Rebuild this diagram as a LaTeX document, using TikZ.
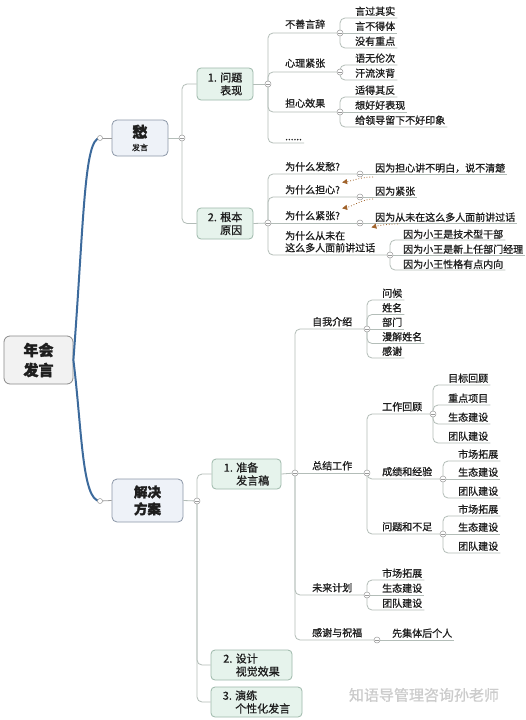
\documentclass[tikz,border=0pt]{standalone}
\usepackage{fontspec}
\setmainfont{Noto Sans CJK SC}[FakeBold=0.9, BoldFeatures={FakeBold=1.8}]
\usetikzlibrary{arrows.meta}
\definecolor{lc}{HTML}{B3BDB8}
\definecolor{cg}{HTML}{9A9A9A}
\definecolor{txt}{HTML}{1E1E1E}
\definecolor{gb}{HTML}{9DB8AA}
\definecolor{gf}{HTML}{E6F3EC}
\definecolor{bb}{HTML}{8C97A8}
\definecolor{bf}{HTML}{EEF2F8}
\definecolor{rb}{HTML}{8A8A8A}
\definecolor{rf}{HTML}{F2F2F2}
\definecolor{mainblue}{HTML}{3C6A9C}
\definecolor{relc}{HTML}{A0622A}
\begin{document}
\begin{tikzpicture}[x=1pt,y=-1pt,
  tn/.style={anchor=south west, inner xsep=2pt, inner ysep=2pt, text=txt, font=\fontsize{10}{12}\selectfont},
  tm/.style={tn, inner ysep=2.5pt, align=left},
  ta/.style={tn, inner ysep=1pt},
  conn/.style={draw=lc, line width=0.8pt, rounded corners=5pt},
  cb/.style={circle, draw=cg, fill=white, line width=0.5pt, minimum size=6pt, inner sep=0pt,
    path picture={\draw[cg, line width=0.5pt] ([xshift=-1.6pt]path picture bounding box.center) -- ([xshift=1.6pt]path picture bounding box.center);}},
  hc/.style={circle, draw=cg, fill=white, line width=0.5pt, minimum size=5pt, inner sep=0pt},
  gbox/.style={draw=gb, fill=gf, rounded corners=4pt, line width=0.8pt, align=left, text=txt,
    font=\fontsize{11}{13}\selectfont, minimum height=30pt, inner sep=0pt},
  bbox/.style={draw=bb, fill=bf, rounded corners=5pt, line width=0.8pt, align=center, text=txt, inner sep=0pt},
  rel/.style={draw=relc, dotted, line width=0.8pt, -{Triangle[length=5pt,width=5pt]}},
  mainline/.style={draw=mainblue, line width=2pt}
]
\useasboundingbox (0,0) rectangle (526,720);
\fill[white] (0,0) rectangle (526,720);

% ---------- coordinates of collapse circles ----------
\coordinate (kq) at (100,138);
\coordinate (ks) at (100,501);
\coordinate (kc) at (182,138);
\coordinate (kj) at (197,501);
\coordinate (kb1) at (268,84);
\coordinate (kb2) at (268,223);
\coordinate (ka1) at (340,33);
\coordinate (ka2) at (340,72);
\coordinate (ka3) at (340,112);
\coordinate (kq1) at (360,174);
\coordinate (kq2) at (360,197);
\coordinate (kq3) at (360,223);
\coordinate (kq4) at (390,255);
\coordinate (kp1) at (295,473);
\coordinate (ks1) at (367,329);
\coordinate (ks2) at (367,473);
\coordinate (ks3) at (367,595);
\coordinate (ks4) at (377,640);
\coordinate (kw1) at (433,414);
\coordinate (kw2) at (443,479);
\coordinate (kw3) at (443,534);

% ---------- boxes ----------
\node[draw=rb, fill=rf, rounded corners=6pt, line width=0.8pt, minimum width=69pt, minimum height=48pt,
  align=center, text=txt, inner sep=0pt, font=\fontsize{15}{20}\selectfont\bfseries] (root) at (38.5,360) {年会\\发言};
\node[bbox, minimum width=56pt, minimum height=36pt, font=\fontsize{8}{13}\selectfont] (chou) at (140,138)
  {{\fontsize{15}{16}\selectfont\bfseries 愁}\\发言};
\node[bbox, minimum width=71pt, minimum height=43pt, font=\fontsize{13.5}{17}\selectfont\bfseries] (jjfa) at (147.5,500.5) {解决\\方案};

\node[gbox, minimum width=56pt, minimum height=32pt] (b1) at (225,84) {1. 问题\\\hphantom{1. }表现};
\node[gbox, minimum width=56pt, minimum height=31pt] (b2) at (225,223.5) {2. 根本\\\hphantom{2. }原因};
\node[gbox, minimum width=69pt] (p1) at (246.5,474) {1. 准备\\\hphantom{1. }发言稿};
\node[gbox, minimum width=81pt] (p2) at (251.5,665) {2. 设计\\\hphantom{2. }视觉效果};
\node[gbox, minimum width=91pt] (p3) at (256.5,702) {3. 演练\\\hphantom{3. }个性化发言};

% ---------- level 2 texts ----------
\node[tm, inner ysep=4pt] (a1) at (283,33) {不善言辞};
\node[tm, inner ysep=4pt] (a2) at (283,72) {心理紧张};
\node[tm, inner ysep=4pt] (a3) at (283,112) {担心效果};
\node[tm] (a4) at (283,143) {......};

\node[tm] (q1) at (283,174) {为什么发愁?};
\node[tm] (q2) at (283,197) {为什么担心?};
\node[tm] (q3) at (283,223) {为什么紧张?};
\node[tm] (q4) at (283,255) {为什么从未在\\这么多人面前讲过话};

\node[tm] (s1) at (310,329) {自我介绍};
\node[tm] (s2) at (310,473) {总结工作};
\node[tm] (s3) at (310,595) {未来计划};
\node[tm] (s4) at (310,640) {感谢与祝福};

\node[tm] (w1) at (380,414) {工作回顾};
\node[tm] (w2) at (380,479) {成绩和经验};
\node[tm] (w3) at (380,534) {问题和不足};

% ---------- leaves ----------
\node[tn] (a11) at (353,18) {言过其实};
\node[tn] (a12) at (353,33) {言不得体};
\node[tn] (a13) at (353,48) {没有重点};
\node[tn] (a21) at (353,65) {语无伦次};
\node[tn] (a22) at (353,80) {汗流浃背};
\node[tn] (a31) at (353,97) {适得其反};
\node[tn] (a32) at (353,112) {想好好表现};
\node[tn] (a33) at (353,127) {给领导留下不好印象};

\node[ta] (r1) at (373,174) {因为担心讲不明白，说不清楚};
\node[ta] (r2) at (373,197) {因为紧张};
\node[ta] (r3) at (373,223) {因为从未在这么多人面前讲过话};
\node[ta] (r41) at (401,240) {因为小王是技术型干部};
\node[ta] (r42) at (401,255) {因为小王是新上任部门经理};
\node[ta] (r43) at (401,270) {因为小王性格有点内向};

\node[tn] (z1) at (380,300) {问候};
\node[tn] (z2) at (380,314.5) {姓名};
\node[tn] (z3) at (380,329) {部门};
\node[tn] (z4) at (380,343.5) {漫解姓名};
\node[tn] (z5) at (380,358) {感谢};

\node[tn] (x11) at (446,385) {目标回顾};
\node[tn] (x12) at (446,405) {重点项目};
\node[tn] (x13) at (446,424) {生态建设};
\node[tn] (x14) at (446,443) {团队建设};
\node[tn] (x21) at (456,461) {市场拓展};
\node[tn] (x22) at (456,479) {生态建设};
\node[tn] (x23) at (456,498) {团队建设};
\node[tn] (x31) at (456,516) {市场拓展};
\node[tn] (x32) at (456,534) {生态建设};
\node[tn] (x33) at (456,553) {团队建设};
\node[tn] (v1) at (380,580) {市场拓展};
\node[tn] (v2) at (380,595) {生态建设};
\node[tn] (v3) at (380,610) {团队建设};
\node[tn] (u1) at (390,640) {先集体后个人};

% ---------- main blue connectors ----------
\draw[mainline] (root.east) .. controls (84,220) and (84,138) .. (kq);
\draw[mainline] (root.east) .. controls (82,430) and (82,501) .. (ks);
\draw[draw=cg, line width=0.8pt] (kq) -- (chou.west);
\draw[draw=cg, line width=0.8pt] (ks) -- (jjfa.west);
\draw[conn] (chou.east) -- (kc);
\draw[conn] (jjfa.east) -- (kj);

% ---------- level 1 ----------
\draw[conn] (kc) |- (b1.west);
\draw[conn] (kc) |- (b2.west);
\draw[conn] (kj) |- (p1.west);
\draw[conn] (kj) |- (p2.west);
\draw[conn] (kj) |- (p3.west);
\draw[conn] (b1.east) -- (kb1);
\draw[conn] (b2.east) -- (kb2);
\draw[conn] (p1.east) -- (kp1);

% ---------- level 2 ----------
\draw[conn] (kb1) |- (a1.south west) -- (ka1);
\draw[conn] (kb1) |- (a2.south west) -- (ka2);
\draw[conn] (kb1) |- (a3.south west) -- (ka3);
\draw[conn] (kb1) |- (a4.south west) -- (a4.south east);

\draw[conn] (kb2) |- (q1.south west) -- (kq1);
\draw[conn] (kb2) |- (q2.south west) -- (kq2);
\draw[conn] (kb2) -- (kq3);
\draw[conn] (kb2) |- (q4.south west) -- (kq4);

\draw[conn] (kp1) |- (s1.south west) -- (ks1);
\draw[conn] (kp1) -- (ks2);
\draw[conn] (kp1) |- (s3.south west) -- (ks3);
\draw[conn] (kp1) |- (s4.south west) -- (ks4);

\draw[conn] (ks2) |- (w1.south west) -- (kw1);
\draw[conn] (ks2) |- (w2.south west) -- (kw2);
\draw[conn] (ks2) |- (w3.south west) -- (kw3);

% ---------- leaves ----------
\draw[conn] (ka1) |- (a11.south west) -- (a11.south east);
\draw[conn] (ka1) -- (a12.south east);
\draw[conn] (ka1) |- (a13.south west) -- (a13.south east);
\draw[conn] (ka2) |- (a21.south west) -- (a21.south east);
\draw[conn] (ka2) |- (a22.south west) -- (a22.south east);
\draw[conn] (ka3) |- (a31.south west) -- (a31.south east);
\draw[conn] (ka3) -- (a32.south east);
\draw[conn] (ka3) |- (a33.south west) -- (a33.south east);

\draw[conn] (kq1) -- (r1.south east);
\draw[conn] (kq2) -- (r2.south east);
\draw[conn] (kq3) -- (r3.south east);
\draw[conn] (kq4) |- (r41.south west) -- (r41.south east);
\draw[conn] (kq4) -- (r42.south east);
\draw[conn] (kq4) |- (r43.south west) -- (r43.south east);

\draw[conn] (ks1) |- (z1.south west) -- (z1.south east);
\draw[conn] (ks1) |- (z2.south west) -- (z2.south east);
\draw[conn] (ks1) -- (z3.south east);
\draw[conn] (ks1) |- (z4.south west) -- (z4.south east);
\draw[conn] (ks1) |- (z5.south west) -- (z5.south east);

\draw[conn] (kw1) |- (x11.south west) -- (x11.south east);
\draw[conn] (kw1) |- (x12.south west) -- (x12.south east);
\draw[conn] (kw1) |- (x13.south west) -- (x13.south east);
\draw[conn] (kw1) |- (x14.south west) -- (x14.south east);
\draw[conn] (kw2) |- (x21.south west) -- (x21.south east);
\draw[conn] (kw2) -- (x22.south east);
\draw[conn] (kw2) |- (x23.south west) -- (x23.south east);
\draw[conn] (kw3) |- (x31.south west) -- (x31.south east);
\draw[conn] (kw3) -- (x32.south east);
\draw[conn] (kw3) |- (x33.south west) -- (x33.south east);
\draw[conn] (ks3) |- (v1.south west) -- (v1.south east);
\draw[conn] (ks3) -- (v2.south east);
\draw[conn] (ks3) |- (v3.south west) -- (v3.south east);
\draw[conn] (ks4) -- (u1.south east);

% ---------- relationship arrows ----------
\draw[rel] ([yshift=-3pt]r1.south west) .. controls +(-12,0) and +(12,-2) .. (q2.north east);
\draw[rel] ([yshift=-2pt]r2.south west) .. controls +(-10,0) and +(10,-2) .. (q3.north east);
\draw[rel] ([xshift=25pt,yshift=-1pt]r3.south west) .. controls +(-10,0) and +(8,-2) .. ([xshift=-6pt,yshift=1pt]q4.north east);

% ---------- circles on top ----------
\node[hc] at (kq) {};
\node[hc] at (ks) {};
\foreach \k in {kc,kj,kb1,kb2,ka1,ka2,ka3,kq1,kq2,kq3,kq4,kp1,ks1,ks2,ks3,ks4,kw1,kw2,kw3}
  \node[cb] at (\k) {};

% ---------- watermark ----------
\node[text=black!20, font=\fontsize{15}{17}\selectfont] (wm) at (424,695) {知语导管理咨询孙老师};
\end{tikzpicture}
\end{document}
